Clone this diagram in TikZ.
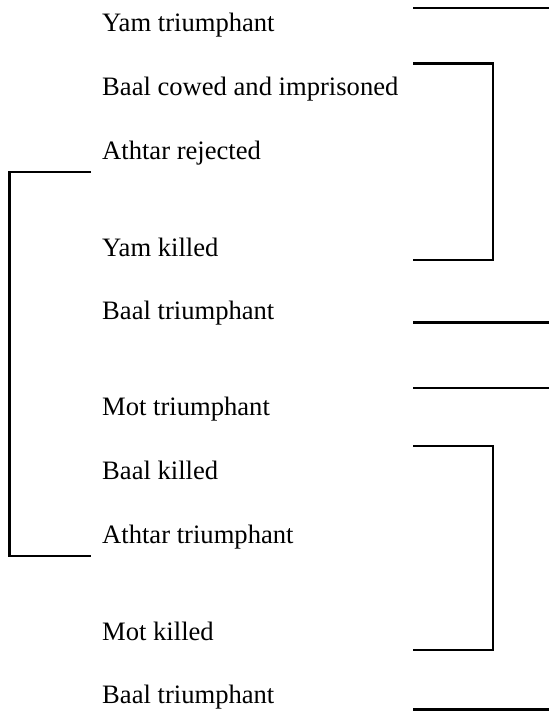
\documentclass[tikz,border=0pt]{standalone}
\usepackage{fontspec}
\setmainfont{Liberation Serif}
\begin{document}
\begin{tikzpicture}[x=1pt,y=-1pt,
  lbl/.style={anchor=base west, inner sep=0pt, font=\fontsize{26.6}{30}\selectfont},
  rule/.style={line width=2.4pt}]
\useasboundingbox (0,0) rectangle (549,711);
% labels
\node[lbl] (t1)  at (102,31.5) {Yam triumphant};
\node[lbl] (t2)  at (102,96)   {Baal cowed and imprisoned};
\node[lbl] (t3)  at (102,159.5){Athtar rejected};
\node[lbl] (t4)  at (102,256)  {Yam killed};
\node[lbl] (t5)  at (102,319.5){Baal triumphant};
\node[lbl] (t6)  at (102,415.5){Mot triumphant};
\node[lbl] (t7)  at (102,479)  {Baal killed};
\node[lbl] (t8)  at (102,543)  {Athtar triumphant};
\node[lbl] (t9)  at (102,640)  {Mot killed};
\node[lbl] (t10) at (102,703)  {Baal triumphant};
% line end points
\coordinate (a1) at (413,8.3);   \coordinate (a2) at (549,8.3);
\coordinate (b1) at (413,63.5);  \coordinate (b2) at (493,63.5);
\coordinate (b3) at (493,260);   \coordinate (b4) at (413,260);
\coordinate (c1) at (413,322.3); \coordinate (c2) at (549,322.3);
\coordinate (d1) at (413,387.7); \coordinate (d2) at (549,387.7);
\coordinate (e1) at (413,446);   \coordinate (e2) at (493,446);
\coordinate (e3) at (493,649.7); \coordinate (e4) at (413,649.7);
\coordinate (f1) at (413,709.3); \coordinate (f2) at (549,709.3);
\coordinate (g1) at (91,172);    \coordinate (g2) at (9.5,172);
\coordinate (g3) at (9.5,556);   \coordinate (g4) at (91,556);
% rules
\draw[rule] (a1) -- (a2);
\draw[rule] (b1) -- (b2) -- (b3) -- (b4);
\draw[rule] (c1) -- (c2);
\draw[rule] (d1) -- (d2);
\draw[rule] (e1) -- (e2) -- (e3) -- (e4);
\draw[rule] (f1) -- (f2);
\draw[rule] (g1) -- (g2) -- (g3) -- (g4);
\end{tikzpicture}
\end{document}
